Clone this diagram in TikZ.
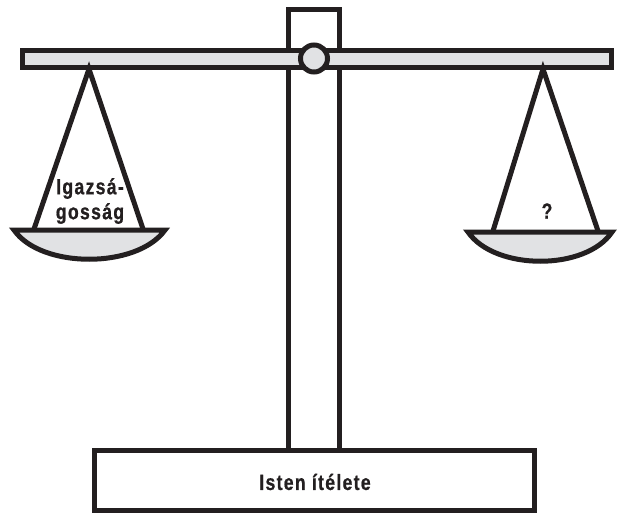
\documentclass[tikz,border=0pt]{standalone}
\usepackage{fontspec}
\newfontfamily\scalefont{Liberation Sans}[FakeStretch=0.8, LetterSpace=6, FakeBold=0.8]
\usetikzlibrary{positioning,calc}
\definecolor{InkDark}{RGB}{35,31,32}
\definecolor{PanGray}{RGB}{225,226,228}

\begin{document}
\begin{tikzpicture}[x=1pt, y=-1pt, line width=5pt, draw=InkDark,
    every node/.style={font=\scalefont\bfseries\fontsize{22}{25}\selectfont, text=InkDark, align=center},
    part/.style={draw=InkDark, line join=miter},
    pan/.style={draw=InkDark, fill=PanGray, line join=miter, miter limit=12}]
  \useasboundingbox (0,0) rectangle (618,516);
  % post and base
  \draw[part, fill=white] (288.5,10) rectangle (339.5,450) coordinate (postfoot);
  \draw[part, fill=white] (94.5,450.5) rectangle (534.5,510.5);
  \node (base) at (315,482) {Isten ítélete};
  % beam with pivot
  \draw[part, fill=PanGray] (22,51) rectangle (611,68);
  \node[circle, draw=InkDark, fill=PanGray, line width=5pt, minimum size=27pt, inner sep=0pt] (pivot) at (314,58.5) {};
  % left pan
  \coordinate (lhook) at (89,69);
  \coordinate (lstrA) at (34,229);
  \coordinate (lstrB) at (143,229);
  \draw[part] (lstrA) -- (lhook) -- (lstrB);
  \draw[pan] (14,230) .. controls (41,269) and (137,269) .. (165,230) -- cycle;
  \node (justice) at (90,201) {Igazsá-\\gosság};
  % right pan
  \coordinate (rhook) at (543,69);
  \coordinate (rstrA) at (493,231);
  \coordinate (rstrB) at (598,231);
  \draw[part] (rstrA) -- (rhook) -- (rstrB);
  \draw[pan] (468,232) .. controls (495,271) and (586,271) .. (612,232) -- cycle;
  \node (unknown) at (547,211) {?};
\end{tikzpicture}
\end{document}
